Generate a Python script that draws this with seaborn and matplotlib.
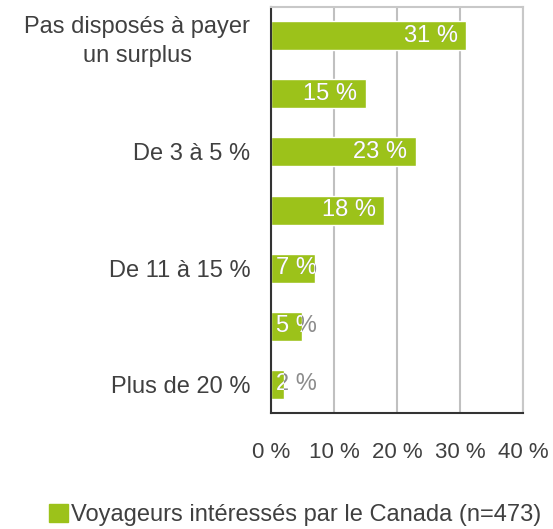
import seaborn as sns
import matplotlib.pyplot as plt
import matplotlib.patches as mpatches
from matplotlib.transforms import Bbox, TransformedBbox
import pandas as pd

# Données
categories = ["Pas disposés à payer un surplus", "Moins de 3 %", "De 3 à 5 %",
              "De 6 à 10 %", "De 11 à 15 %", "De 16 à 20 %", "Plus de 20 %"]
etiquettes = ["Pas disposés à payer\nun surplus", "", "De 3 à 5 %", "",
              "De 11 à 15 %", "", "Plus de 20 %"]
valeurs = [31, 15, 23, 18, 7, 5, 2]
ticks_x = [0, 10, 20, 30, 40]
serie = "Voyageurs intéressés par le Canada (n=473)"

vert = "#9CC21A"
gris_texte = "#404040"

df = pd.DataFrame({"cat": categories, "val": valeurs})

sns.set_style("white")
plt.rcParams["font.family"] = ["Liberation Sans", "DejaVu Sans"]

fig = plt.figure(figsize=(5.53, 5.29), dpi=100)
ax = fig.add_axes([0.490, 0.219, 0.456, 0.768])

sns.barplot(data=df, y="cat", x="val", color=vert, saturation=1,
            width=0.5, orient="h", ax=ax)

ax.set_xlim(0, 40)
ax.set_ylim(6.5, -0.5)
ax.set_xticks(ticks_x)
ax.set_xticklabels([f"{t} %" for t in ticks_x], fontsize=16, color=gris_texte)
ax.set_yticks(range(len(categories)))
ax.set_yticklabels(etiquettes, fontsize=17, color=gris_texte, ha="right",
                   multialignment="center", linespacing=1.4)
ax.tick_params(axis="y", which="major", length=0, pad=15)
ax.set_yticks([i - 0.5 for i in range(len(categories) + 1)], minor=True)
ax.tick_params(axis="y", which="minor", length=7, width=1.5, color="#333333", direction="out")
ax.tick_params(axis="x", length=7, width=1.5, color="#333333", direction="out", pad=14)
ax.set_xlabel("")
ax.set_ylabel("")

ax.grid(axis="x", color="#C0C0C0", linewidth=1.5)
ax.set_axisbelow(True)
for s in ["left", "bottom"]:
    ax.spines[s].set_color("#333333")
    ax.spines[s].set_linewidth(1.5)
for s in ["top", "right"]:
    ax.spines[s].set_color("#C8C8C8")
    ax.spines[s].set_linewidth(1.5)

# étiquettes de valeurs : blanches sur la barre, grises à l'extérieur
for barre, v in zip(ax.patches, valeurs):
    y = barre.get_y() + barre.get_height() / 2
    xpos = max(v - 1.4, 7.3)
    txt = f"{v} %"
    ax.text(xpos, y, txt, ha="right", va="center", fontsize=17, color="#8C8C8C")
    t = ax.text(xpos, y, txt, ha="right", va="center", fontsize=17, color="white")
    boite = Bbox([[barre.get_x(), barre.get_y()],
                  [barre.get_x() + barre.get_width(), barre.get_y() + barre.get_height()]])
    t.set_clip_box(TransformedBbox(boite, ax.transData))
    t.set_clip_on(True)

poignee = mpatches.Patch(color=vert, label=serie)
fig.legend(handles=[poignee], loc="center", bbox_to_anchor=(0.534, 0.027),
           frameon=False, fontsize=17, handlelength=0.8, handleheight=0.8,
           handletextpad=0.15, labelcolor=gris_texte)

fig.savefig("out.png", dpi=100)
